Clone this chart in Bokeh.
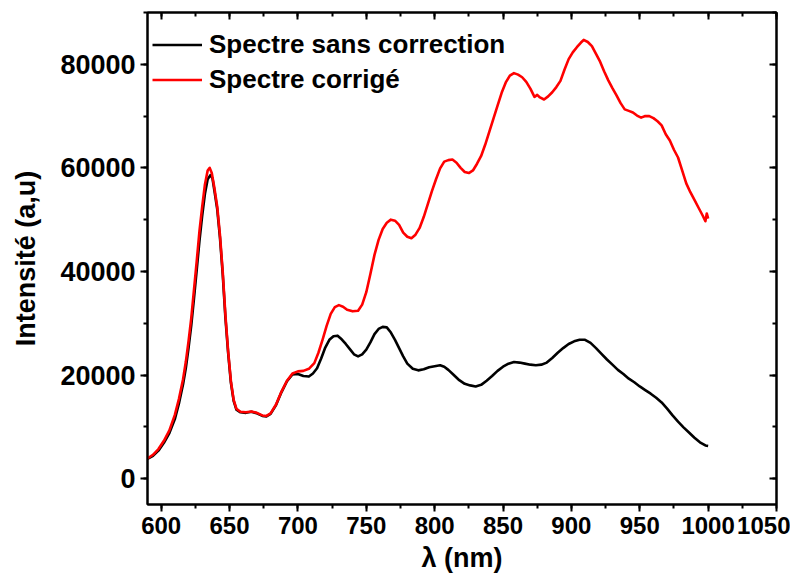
from bokeh.plotting import figure
from bokeh.models import (Range1d, SingleIntervalTicker, LinearAxis, Legend, LegendItem,
                          BasicTickFormatter, CustomJSTickFormatter)
from bokeh.embed import file_html
from bokeh.resources import INLINE

# ---- data ----
wl_raw = [590, 594, 598, 602, 606, 610, 613, 616, 618, 620, 622, 624, 626, 628, 630, 632, 634, 636,
          637.5, 639, 641, 643, 645, 647, 649, 651, 653, 655, 658, 662, 666, 670, 674, 677, 680, 684,
          688, 692, 696, 700, 704, 708, 711, 714, 717, 720, 723, 726, 729, 732, 735, 738, 741, 744,
          747, 750, 753, 756, 759, 762, 765, 768, 771, 774, 777, 780, 784, 788, 792, 796, 800, 804,
          807, 810, 814, 818, 822, 826, 830, 834, 838, 842, 846, 850, 854, 858, 862, 866, 870, 874,
          878, 882, 886, 890, 894, 898, 902, 906, 910, 914, 918, 922, 926, 930, 934, 938, 942, 946,
          950, 954, 958, 962, 966, 970, 974, 978, 982, 986, 990, 994, 998, 1000]
int_raw = [3800, 4400, 5400, 6900, 8800, 11500, 14500, 18200, 21300, 25200, 29600, 34800, 40300,
           45900, 50800, 55000, 57800, 58600, 58000, 55500, 52000, 46500, 39500, 31000, 24200, 18500,
           15000, 13300, 12800, 12700, 12900, 12600, 12100, 12000, 12500, 14200, 16700, 18800, 20100,
           20200, 19800, 19700, 20300, 21300, 23200, 25300, 26800, 27500, 27600, 26900, 26000, 25000,
           24000, 23600, 24000, 24900, 26300, 27900, 28900, 29300, 29200, 28200, 26800, 25200, 23600,
           22200, 21200, 20900, 21100, 21500, 21700, 21900, 21600, 21000, 20000, 19000, 18300, 18000,
           17800, 18100, 18900, 19800, 20800, 21600, 22200, 22500, 22400, 22200, 22000, 21900, 22000,
           22400, 23300, 24300, 25200, 26000, 26500, 26800, 26800, 26200, 25200, 24100, 23000, 22000,
           21000, 20200, 19300, 18600, 17800, 17100, 16400, 15600, 14700, 13500, 12200, 11000, 9900,
           8900, 7900, 7000, 6400, 6300]

wl_corr = [590, 594, 598, 602, 606, 610, 613, 616, 618, 620, 622, 624, 626, 628, 630, 632, 634, 635.5,
           637, 639, 641, 643, 645, 647, 649, 651, 653, 655, 658, 662, 666, 670, 674, 677, 680, 684,
           688, 692, 696, 700, 704, 708, 712, 715, 718, 721, 724, 727, 730, 733, 736, 740, 744, 747,
           750, 753, 756, 759, 762, 765, 768, 771, 774, 777, 780, 783, 786, 789, 792, 795, 798, 801,
           804, 807, 810, 813, 816, 819, 822, 825, 828, 831, 834, 837, 840, 843, 846, 849, 852, 855,
           858, 861, 864, 867, 870, 873, 875, 877, 880, 883, 886, 889, 892, 895, 898, 901, 904, 907,
           909, 912, 915, 918, 921, 924, 927, 930, 933, 936, 939, 942, 945, 948, 951, 954, 957, 960,
           963, 966, 969, 972, 975, 978, 981, 984, 987, 990, 993, 996, 998, 999, 1000]
int_corr = [3900, 4600, 5700, 7300, 9300, 12300, 15400, 19200, 22500, 26500, 31000, 36500, 42000,
            47800, 52500, 56800, 59500, 60000, 59000, 56000, 52500, 47000, 40000, 31500, 24500, 18800,
            15200, 13500, 12900, 12800, 12950, 12700, 12200, 12100, 12600, 14300, 16800, 18900, 20300,
            20700, 20800, 21200, 22300, 24300, 26800, 29500, 31800, 33100, 33500, 33200, 32600, 32300,
            32400, 33600, 36000, 39500, 43200, 46100, 48200, 49400, 50000, 49800, 49000, 47500, 46700,
            46400, 47100, 48400, 50500, 53000, 55500, 57800, 59900, 61200, 61500, 61600, 61000, 60000,
            59200, 59000, 59500, 60800, 62300, 64500, 67000, 69500, 72000, 74500, 76500, 77800, 78300,
            78000, 77500, 76600, 75300, 73700, 74100, 73600, 73200, 73800, 74600, 75600, 76800, 79000,
            81000, 82300, 83300, 84200, 84700, 84300, 83500, 82000, 80500, 78600, 76900, 75400, 74000,
            72500, 71300, 71000, 70700, 70100, 69700, 70000, 70000, 69600, 69000, 68200, 66500, 65300,
            63500, 62000, 59500, 57000, 55300, 53800, 52300, 50800, 49700, 51200, 50200]

series_labels = ["Spectre sans correction", "Spectre corrigé"]
x_label = "λ (nm)"
y_label = "Intensité (a,u)"

FONT = "Liberation Sans"

p = figure(width=790, height=579, output_backend="svg", toolbar_location=None,
           x_range=Range1d(590, 1050), y_range=Range1d(-5000, 90000),
           min_border_left=147, min_border_right=14, min_border_top=12, min_border_bottom=75,
           x_axis_label=x_label, y_axis_label=y_label)
p.background_fill_color = "white"
p.border_fill_color = "white"
p.outline_line_color = "black"
p.outline_line_width = 2
p.xgrid.visible = False
p.ygrid.visible = False

xt = SingleIntervalTicker(interval=50, num_minor_ticks=2)
yt = SingleIntervalTicker(interval=20000, num_minor_ticks=2)

def style_main(ax, ticker, size):
    ax.ticker = ticker
    ax.axis_line_width = 2
    ax.major_tick_line_width = 2
    ax.minor_tick_line_width = 2
    ax.major_tick_out = 7
    ax.major_tick_in = 0
    ax.minor_tick_out = 4
    ax.minor_tick_in = 0
    ax.major_label_text_font = FONT
    ax.major_label_text_font_style = "bold"
    ax.major_label_text_font_size = size
    ax.major_label_text_color = "black"
    ax.axis_label_text_font = FONT
    ax.axis_label_text_font_style = "bold"
    ax.axis_label_text_font_size = "27px"
    ax.axis_label_text_color = "black"

xa = p.xaxis[0]
ya = p.yaxis[0]
style_main(xa, xt, "24px")
style_main(ya, yt, "27px")
xa.major_label_standoff = 5
xa.axis_label_standoff = 6
ya.major_label_standoff = 5
ya.axis_label_standoff = 16
ya.formatter = BasicTickFormatter(use_scientific=False)

blank = CustomJSTickFormatter(code="return ''")
for loc, ticker in (("above", xt), ("right", yt)):
    ax = LinearAxis(ticker=ticker, formatter=blank)
    ax.axis_line_width = 2
    ax.major_tick_line_width = 2
    ax.minor_tick_line_width = 2
    ax.major_tick_in = 7
    ax.major_tick_out = 0
    ax.minor_tick_in = 4
    ax.minor_tick_out = 0
    ax.major_label_standoff = 0
    ax.major_label_text_font_size = "1px"
    p.add_layout(ax, loc)

r_black = p.line(wl_raw, int_raw, line_color="black", line_width=2.6, line_join="round")
r_red = p.line(wl_corr, int_corr, line_color="#FF0000", line_width=2.6, line_join="round")

legend = Legend(items=[LegendItem(label=series_labels[0], renderers=[r_black]),
                       LegendItem(label=series_labels[1], renderers=[r_red])],
                location=(5, 407))
legend.border_line_color = None
legend.background_fill_alpha = 0
legend.padding = 0
legend.margin = 0
legend.spacing = 0
legend.glyph_width = 50
legend.glyph_height = 35
legend.label_height = 35
legend.label_standoff = 7
legend.label_text_font = FONT
legend.label_text_font_style = "bold"
legend.label_text_font_size = "26px"
legend.label_text_color = "black"
p.add_layout(legend)

open("out.html", "w").write(file_html(p, INLINE))
